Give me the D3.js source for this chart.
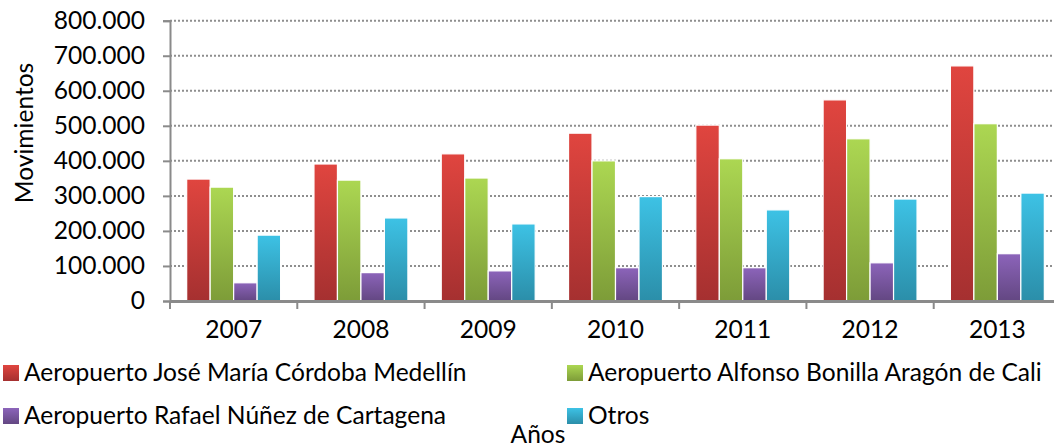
<!DOCTYPE html>
<html>
<head>
<meta charset="utf-8">
<script src="https://cdn.jsdelivr.net/npm/d3@7"></script>
<style>
  body { margin: 0; background: #fff; }
  svg { display: block; font-family: Lato, "Open Sans", sans-serif; }
</style>
</head>
<body>
<svg id="chart" width="1054" height="448"></svg>
<script>
const years = ["2007", "2008", "2009", "2010", "2011", "2012", "2013"];
const seriesNames = [
  "Aeropuerto José María Córdoba Medellín",
  "Aeropuerto Alfonso Bonilla Aragón de Cali",
  "Aeropuerto Rafael Núñez de Cartagena",
  "Otros"
];
const medellin = [348000, 391000, 420000, 479000, 502000, 574000, 671000];
const cali = [325000, 345000, 351000, 400000, 406000, 463000, 506000];
const cartagena = [52000, 81000, 86000, 95000, 95000, 109000, 135000];
const otros = [188000, 237000, 220000, 298000, 260000, 291000, 308000];
const yTicks = [0, 100000, 200000, 300000, 400000, 500000, 600000, 700000, 800000];

const seriesValues = [medellin, cali, cartagena, otros];
const gradients = [
  ["#e0453f", "#a53030"],
  ["#acd752", "#7d9c38"],
  ["#8c64ba", "#634782"],
  ["#3dc2e5", "#2b8ea9"]
];

const svg = d3.select("#chart");
const margin = { left: 170, right: -7, top: 20.7, bottom: 147 };
const width = 1054, height = 448;

const locale = d3.formatLocale({ decimal: ",", thousands: ".", grouping: [3], currency: ["$", ""] });
const fmt = locale.format(",d");

// pick a font size so the legend text comes out as wide as in the original
const probe = svg.append("text").attr("font-size", 100).text(seriesNames[1]);
const fontSize = 100 * 454 / probe.node().getComputedTextLength();
probe.remove();

const x = d3.scaleBand().domain(years).range([margin.left, width - margin.right]);
const xInner = d3.scaleBand().domain(d3.range(4)).range([0, x.bandwidth()]).paddingOuter(0.71);
const y = d3.scaleLinear().domain([0, 800000]).range([height - margin.bottom, margin.top]);

// Gradients for bars
const defs = svg.append("defs");
gradients.forEach((g, i) => {
  const grad = defs.append("linearGradient")
    .attr("id", `grad-${i}`)
    .attr("x1", 0).attr("y1", 0).attr("x2", 0).attr("y2", 1);
  grad.append("stop").attr("offset", "0%").attr("stop-color", g[0]);
  grad.append("stop").attr("offset", "100%").attr("stop-color", g[1]);
});

// Grid lines
svg.append("g")
  .selectAll("line")
  .data(yTicks.slice(1))
  .join("line")
  .attr("x1", margin.left)
  .attr("x2", width)
  .attr("y1", d => y(d))
  .attr("y2", d => y(d))
  .attr("stroke", "#8e8e8e")
  .attr("stroke-width", 2)
  .attr("stroke-dasharray", "2,2");

// Bars
const rows = years.map((yr, i) => ({ year: yr, values: seriesValues.map(s => s[i]) }));
svg.append("g")
  .selectAll("g")
  .data(rows)
  .join("g")
  .attr("transform", d => `translate(${x(d.year)},0)`)
  .selectAll("rect")
  .data(d => d.values.map((v, k) => ({ k, v })))
  .join("rect")
  .attr("x", d => xInner(d.k))
  .attr("width", xInner.bandwidth())
  .attr("y", d => y(d.v))
  .attr("height", d => y(0) - y(d.v))
  .attr("fill", d => `url(#grad-${d.k})`)
  .attr("stroke", "#fff")
  .attr("stroke-width", 1.2);

// Y axis
const yAxis = svg.append("g")
  .attr("transform", `translate(${margin.left},0)`)
  .call(d3.axisLeft(y).tickValues(yTicks).tickFormat(d => d === 0 ? "0" : fmt(d)).tickSize(7).tickPadding(18));
yAxis.select(".domain").attr("stroke", "#8a8a8a").attr("stroke-width", 2);
yAxis.selectAll(".tick line").attr("stroke", "#8a8a8a").attr("stroke-width", 2);
yAxis.selectAll(".tick text")
  .attr("font-size", fontSize)
  .attr("font-family", "Lato, sans-serif")
  .attr("fill", "#000");

// X axis
const xAxis = svg.append("g")
  .attr("transform", `translate(0,${y(0)})`)
  .call(d3.axisBottom(x).tickSize(0).tickPadding(20));
xAxis.select(".domain").attr("stroke", "#8a8a8a").attr("stroke-width", 3);
xAxis.selectAll(".tick text")
  .attr("font-size", fontSize)
  .attr("font-family", "Lato, sans-serif")
  .attr("fill", "#000");

// separators between years
svg.append("g")
  .selectAll("line")
  .data(years.concat(["end"]))
  .join("line")
  .attr("x1", (d, i) => margin.left + i * x.step())
  .attr("x2", (d, i) => margin.left + i * x.step())
  .attr("y1", y(0))
  .attr("y2", y(0) + 8)
  .attr("stroke", "#8a8a8a")
  .attr("stroke-width", 2);

// Axis titles
svg.append("text")
  .attr("transform", "translate(33,133) rotate(-90)")
  .attr("text-anchor", "middle")
  .attr("font-size", fontSize)
  .text("Movimientos");

svg.append("text")
  .attr("x", 538)
  .attr("y", 443)
  .attr("text-anchor", "middle")
  .attr("font-size", fontSize)
  .text("Años");

// Legend
const legendPos = [[3, 381], [567, 381], [3, 424], [567, 424]];
const legend = svg.append("g")
  .selectAll("g")
  .data(seriesNames)
  .join("g")
  .attr("transform", (d, i) => `translate(${legendPos[i][0]},${legendPos[i][1]})`);

legend.append("rect")
  .attr("y", -16)
  .attr("width", 16)
  .attr("height", 16)
  .attr("fill", (d, i) => `url(#grad-${i})`);

legend.append("text")
  .attr("x", 21)
  .attr("font-size", fontSize)
  .text(d => d);
</script>
</body>
</html>
